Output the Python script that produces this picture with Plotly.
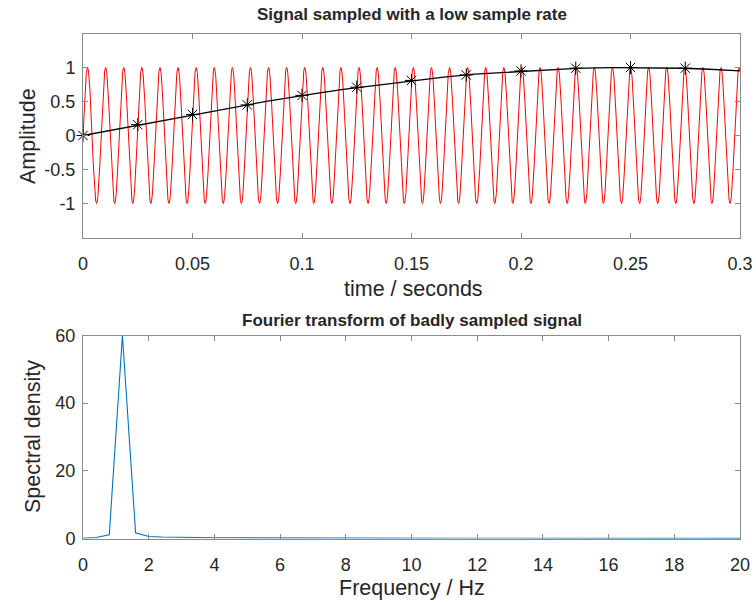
import numpy as np
import plotly.graph_objects as go

# ---- data ----
signal_freq_hz = 121.0        # red high-frequency sine (about 36 cycles in 0.3 s)
alias_freq_hz = 1.0           # black apparent (aliased) sine
sample_rate_hz = 40.0         # sampling interval 0.025 s
sample_times = [0.0, 0.025, 0.05, 0.075, 0.1, 0.125, 0.15, 0.175, 0.2, 0.225, 0.25, 0.275]
sample_values = [0.0, 0.16, 0.31, 0.45, 0.59, 0.71, 0.81, 0.89, 0.95, 0.99, 1.0, 0.99]

spec_freq = [round(0.4 * k, 1) for k in range(51)]
spec_vals = [0.05, 0.3, 1.1, 60.0, 1.7, 0.6, 0.45, 0.35, 0.3, 0.26,
             0.23, 0.21, 0.19, 0.17, 0.16, 0.15, 0.14, 0.13, 0.12, 0.12,
             0.11, 0.11, 0.10, 0.10, 0.09, 0.09, 0.09, 0.08, 0.08, 0.08,
             0.08, 0.07, 0.07, 0.07, 0.07, 0.07, 0.06, 0.06, 0.06, 0.06,
             0.06, 0.06, 0.06, 0.05, 0.05, 0.05, 0.05, 0.05, 0.05, 0.05, 0.05]

top_xticks = [0, 0.05, 0.1, 0.15, 0.2, 0.25, 0.3]
top_xtick_text = ["0", "0.05", "0.1", "0.15", "0.2", "0.25", "0.3"]
top_yticks = [-1, -0.5, 0, 0.5, 1]
top_ytick_text = ["-1", "-0.5", "0", "0.5", "1"]
bot_xticks = list(range(0, 21, 2))
bot_yticks = [0, 20, 40, 60]

# ---- continuous curves ----
t = np.linspace(0, 0.3, 4001)
red = np.sin(2 * np.pi * signal_freq_hz * t)
black = np.sin(2 * np.pi * alias_freq_hz * t)

W, H = 756, 602
def px(x):
    return x / W
def py(y):
    return 1 - y / H

FONT = "Liberation Sans, Arial, Helvetica, sans-serif"
TXT = "#262626"
AX = "#8a8a8a"

fig = go.Figure()
fig.add_trace(go.Scatter(x=t, y=red, mode="lines", line=dict(color="#ff0000", width=1),
                         xaxis="x", yaxis="y", showlegend=False, hoverinfo="skip"))
fig.add_trace(go.Scatter(x=t, y=black, mode="lines", line=dict(color="#000000", width=1.3),
                         xaxis="x", yaxis="y", showlegend=False, hoverinfo="skip"))
fig.add_trace(go.Scatter(x=sample_times, y=sample_values, mode="markers",
                         marker=dict(symbol="asterisk-open", size=11, color="#000000",
                                     line=dict(color="#000000", width=1)),
                         xaxis="x", yaxis="y", showlegend=False, cliponaxis=False))
fig.add_trace(go.Scatter(x=spec_freq, y=spec_vals, mode="lines",
                         line=dict(color="#0072BD", width=1.1),
                         xaxis="x2", yaxis="y2", showlegend=False))

common = dict(showline=True, mirror="ticks", linecolor=AX, linewidth=1, ticks="inside",
              ticklen=5, tickcolor=AX, showgrid=False, zeroline=False, automargin=False,
              tickfont=dict(family=FONT, size=18, color=TXT))
xcommon = dict(common, ticklabelstandoff=10)
ycommon = dict(common, ticklabelstandoff=3)

fig.update_layout(
    width=W, height=H, paper_bgcolor="white", plot_bgcolor="white",
    margin=dict(l=0, r=0, t=0, b=0, autoexpand=False),
    xaxis=dict(domain=[px(83), px(740)], range=[0, 0.3], anchor="y",
               tickmode="array", tickvals=top_xticks, ticktext=top_xtick_text, **xcommon),
    yaxis=dict(domain=[py(237.5), py(33.5)], range=[-1.5, 1.5], anchor="x",
               tickmode="array", tickvals=top_yticks, ticktext=top_ytick_text, **ycommon),
    xaxis2=dict(domain=[px(83), px(740)], range=[0, 20], anchor="y2",
                tickmode="array", tickvals=bot_xticks, **xcommon),
    yaxis2=dict(domain=[py(538.5), py(335.5)], range=[0, 60], anchor="x2",
                tickmode="array", tickvals=bot_yticks, **ycommon),
)

anns = [
    dict(text="<b>Signal sampled with a low sample rate</b>", x=px(411.5), y=py(15), size=17),
    dict(text="<b>Fourier transform of badly sampled signal</b>", x=px(411.5), y=py(320), size=17),
    dict(text="time / seconds", x=px(413), y=py(289), size=21.5),
    dict(text="Frequency / Hz", x=px(412), y=py(588), size=21.5),
]
for a in anns:
    fig.add_annotation(text=a["text"], x=a["x"], y=a["y"], xref="paper", yref="paper",
                       showarrow=False, xanchor="center", yanchor="middle",
                       font=dict(family=FONT, size=a["size"], color=TXT))
fig.add_annotation(text="Amplitude", x=px(28), y=py(136), xref="paper", yref="paper",
                   showarrow=False, textangle=-90, xanchor="center", yanchor="middle",
                   font=dict(family=FONT, size=21.5, color=TXT))
fig.add_annotation(text="Spectral density", x=px(33), y=py(437), xref="paper", yref="paper",
                   showarrow=False, textangle=-90, xanchor="center", yanchor="middle",
                   font=dict(family=FONT, size=21.5, color=TXT))

fig.write_html("out.html", config={"displayModeBar": False},
               post_script="document.body.style.margin='0';document.body.style.overflow='hidden';")
